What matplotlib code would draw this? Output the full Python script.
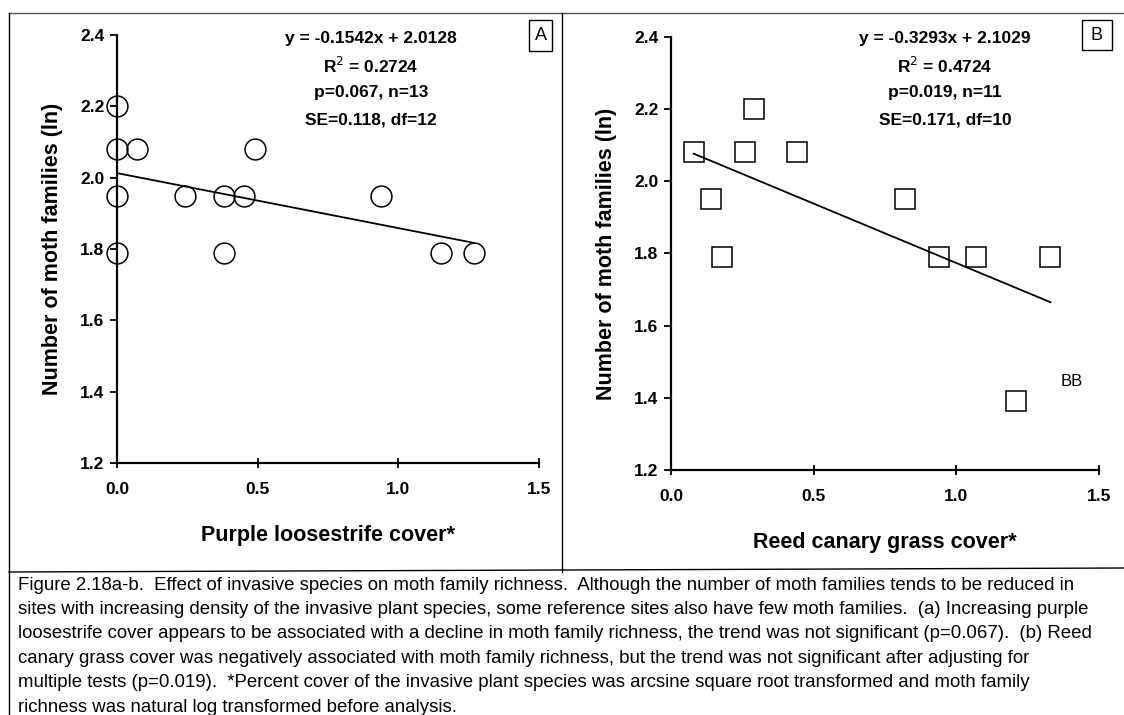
import matplotlib
matplotlib.use("Agg")
import matplotlib.pyplot as plt
from matplotlib.lines import Line2D

# panel A: purple loosestrife (circles)
loose_x = [0.0, 0.0, 0.07, 0.49, 0.0, 0.24, 0.38, 0.45, 0.94, 0.0, 0.38, 1.15, 1.27]
loose_y = [2.20, 2.08, 2.08, 2.08, 1.95, 1.95, 1.95, 1.95, 1.95, 1.79, 1.79, 1.79, 1.79]
loose_slope, loose_int = -0.1542, 2.0128
loose_stats = ["y = -0.1542x + 2.0128", "R$^2$ = 0.2724", "p=0.067, n=13", "SE=0.118, df=12"]

# panel B: reed canary grass (squares)
reed_x = [0.08, 0.14, 0.18, 0.26, 0.29, 0.44, 0.82, 0.94, 1.07, 1.33, 1.21]
reed_y = [2.08, 1.95, 1.79, 2.08, 2.20, 2.08, 1.95, 1.79, 1.79, 1.79, 1.39]
reed_slope, reed_int = -0.3293, 2.1029
reed_stats = ["y = -0.3293x + 2.1029", "R$^2$ = 0.4724", "p=0.019, n=11", "SE=0.171, df=10"]

xticks = [0.0, 0.5, 1.0, 1.5]
yticks = [1.2, 1.4, 1.6, 1.8, 2.0, 2.2, 2.4]

caption = [
    "Figure 2.18a-b.  Effect of invasive species on moth family richness.  Although the number of moth families tends to be reduced in",
    "sites with increasing density of the invasive plant species, some reference sites also have few moth families.  (a) Increasing purple",
    "loosestrife cover appears to be associated with a decline in moth family richness, the trend was not significant (p=0.067).  (b) Reed",
    "canary grass cover was negatively associated with moth family richness, but the trend was not significant after adjusting for",
    "multiple tests (p=0.019).  *Percent cover of the invasive plant species was arcsine square root transformed and moth family",
    "richness was natural log transformed before analysis.",
]

W, H = 1124, 715
plt.rcParams['font.family'] = ['Liberation Sans', 'DejaVu Sans']
fig = plt.figure(figsize=(W / 100, H / 100), dpi=100)


def px(x0, y0, x1, y1):
    return [x0 / W, 1 - y1 / H, (x1 - x0) / W, (y1 - y0) / H]


def panel(rect, xs, ys, slope, icpt, stats, marker, xlabel, tag, tagbox, eqx):
    ax = fig.add_axes(px(*rect))
    ax.plot(xs, ys, linestyle='none', marker=marker, markersize=15,
            markerfacecolor='none', markeredgecolor='black', markeredgewidth=1.1, clip_on=False)
    x0, x1 = min(xs), max(xs)
    ax.plot([x0, x1], [slope * x0 + icpt, slope * x1 + icpt], color='black', lw=1.3)
    ax.set_xlim(0, 1.5)
    ax.set_ylim(1.2, 2.4)
    ax.set_xticks(xticks)
    ax.set_yticks(yticks)
    ax.set_xticklabels(["%.1f" % t for t in xticks], fontsize=12.5, fontweight='bold')
    ax.set_yticklabels(["%.1f" % t for t in yticks], fontsize=12.5, fontweight='bold')
    for s in ['top', 'right']:
        ax.spines[s].set_visible(False)
    for s in ['left', 'bottom']:
        ax.spines[s].set_linewidth(1.6)
    ax.tick_params(axis='y', direction='out', length=5, width=1.3, pad=4)
    ax.tick_params(axis='x', direction='inout', length=7, width=1.3, pad=10)
    ax.set_xlabel(xlabel, fontsize=15.5, fontweight='bold', labelpad=20)
    ax.set_ylabel("Number of moth families (ln)", fontsize=15.5, fontweight='bold', labelpad=12)
    for i, s in enumerate(stats):
        fig.text(eqx / W, 1 - (39 + 27 * i) / H, s, ha='center', va='center',
                 fontsize=12.5, fontweight='bold')
    bx0, by0, bx1, by1 = tagbox
    fig.text((bx0 + bx1) / 2 / W, 1 - (by0 + by1) / 2 / H, tag, ha='center', va='center',
             fontsize=13)
    fig.add_artist(plt.Rectangle((bx0 / W, 1 - by1 / H), (bx1 - bx0) / W, (by1 - by0) / H,
                                 transform=fig.transFigure, fill=False, lw=1.0, color='black'))
    return ax


axA = panel((117, 35, 539, 463), loose_x, loose_y, loose_slope, loose_int, loose_stats, 'o',
            "Purple loosestrife cover*", "A", (529, 20, 552, 51), 371)
axB = panel((671, 37, 1099, 470), reed_x, reed_y, reed_slope, reed_int, reed_stats, 's',
            "Reed canary grass cover*", "B", (1082, 20, 1112, 50), 945)
axB.annotate("BB", (reed_x[-1], reed_y[-1]), xytext=(40, 14), textcoords='offset points',
             fontsize=12, ha='center', va='center')

# frame lines
def fline(x0, y0, x1, y1, lw=1.0, c='black'):
    fig.add_artist(Line2D([x0 / W, x1 / W], [1 - y0 / H, 1 - y1 / H], transform=fig.transFigure,
                          color=c, lw=lw))

fline(9, 13, 1124, 13, c='#555555')
fline(9, 13, 9, 715)
fline(562, 13, 562, 572)
fline(9, 572, 1124, 568)

for i, line in enumerate(caption):
    fig.text(18 / W, 1 - (585 + 24.4 * i) / H, line, ha='left', va='center', fontsize=13.4,
             family=['Liberation Sans Narrow', 'Liberation Sans', 'DejaVu Sans'])

fig.savefig("out.png", dpi=100)
